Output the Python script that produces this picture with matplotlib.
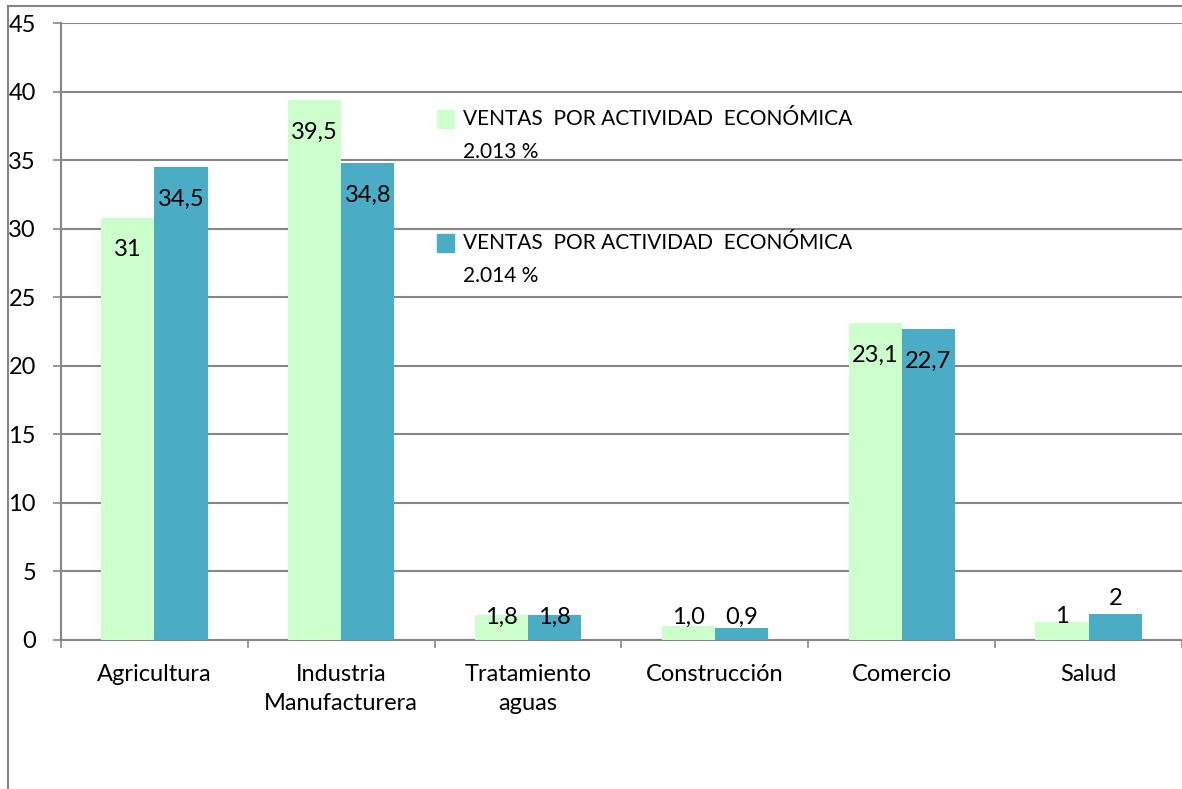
import matplotlib.pyplot as plt
from matplotlib.patches import Rectangle
from matplotlib.lines import Line2D

plt.rcParams['font.family'] = ['Lato', 'DejaVu Sans']

categories = ['Agricultura', 'Industria\nManufacturera', 'Tratamiento\naguas',
              'Construcción', 'Comercio', 'Salud']
ventas_2013 = [30.8, 39.4, 1.8, 1.0, 23.1, 1.3]
ventas_2014 = [34.5, 34.8, 1.8, 0.9, 22.7, 1.9]
labels_2013 = ['31', '39,5', '1,8', '1,0', '23,1', '1']
labels_2014 = ['34,5', '34,8', '1,8', '0,9', '22,7', '2']
series_names = ['VENTAS  POR ACTIVIDAD  ECONÓMICA\n2.013 %',
                'VENTAS  POR ACTIVIDAD  ECONÓMICA\n2.014 %']

green = '#CCFFCC'
blue = '#4BACC6'
gray = '#868686'
fs = 17

fig = plt.figure(figsize=(11.82, 7.89), dpi=100)
ax = fig.add_axes([61 / 1182, 149 / 789, 1121 / 1182, 617 / 789])

# outer chart frame (only top and left visible in the crop)
fig.add_artist(Line2D([8 / 1182, 1], [1 - 6 / 789, 1 - 6 / 789],
                      transform=fig.transFigure, color=gray, lw=1.5))
fig.add_artist(Line2D([8 / 1182, 8 / 1182], [0, 1 - 6 / 789],
                      transform=fig.transFigure, color=gray, lw=1.5))

w = 0.285
x = range(len(categories))
b1 = ax.bar([i - w / 2 for i in x], ventas_2013, w, color=green, zorder=3)
b2 = ax.bar([i + w / 2 for i in x], ventas_2014, w, color=blue, zorder=3)


def put_labels(bars, texts):
    for bar, s in zip(bars, texts):
        h = bar.get_height()
        if s == '2':
            y = h + 1.1
        else:
            y = max(h - 2.35, 1.68)
        ax.text(bar.get_x() + bar.get_width() / 2, y, s, ha='center',
                va='center', fontsize=fs, zorder=4)


put_labels(b1, labels_2013)
put_labels(b2, labels_2014)

ax.set_xlim(-0.5, len(categories) - 0.5)
ax.set_ylim(0, 45)
ax.set_yticks(range(0, 46, 5))
ax.set_xticks([i - 0.5 for i in range(len(categories) + 1)])
ax.set_xticklabels([])
ax.set_xticks(list(x), minor=True)
ax.set_xticklabels(categories, minor=True, fontsize=fs, linespacing=1.5)
ax.tick_params(axis='x', which='major', length=6, color=gray, width=1.2)
ax.tick_params(axis='x', which='minor', length=0, pad=17)
ax.tick_params(axis='y', length=6, color=gray, width=1.2, pad=12, labelsize=fs)

ax.grid(axis='y', color=gray, lw=1.5, zorder=0)
ax.set_axisbelow(True)
for side in ['top', 'right']:
    ax.spines[side].set_visible(False)
for side in ['left', 'bottom']:
    ax.spines[side].set_color(gray)
    ax.spines[side].set_linewidth(1.5)

# legend drawn inside the plot area
legend_y = [0.8444, 0.6434]
for name, col, yy in zip(series_names, [green, blue], legend_y):
    ax.add_patch(Rectangle((0.3354, yy - 0.0145), 0.0152, 0.029,
                           transform=ax.transAxes, color=col, clip_on=False))
    ax.text(0.3586, yy + 0.017, name, transform=ax.transAxes, ha='left',
            va='top', fontsize=15, linespacing=1.85)

fig.savefig('out.png', dpi=100)
